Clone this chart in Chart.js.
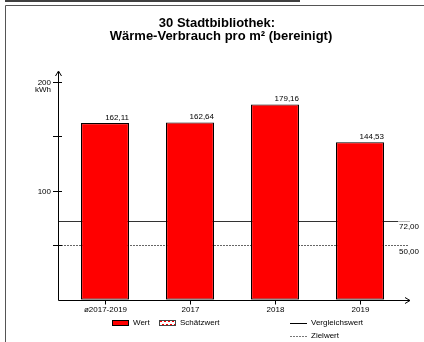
<!DOCTYPE html>
<html>
<head>
<meta charset="utf-8">
<script src="https://cdn.jsdelivr.net/npm/chart.js@4.4.1/dist/chart.umd.min.js"></script>
<style>
  html, body { margin: 0; padding: 0; background: #fff; }
  #wrap { width: 424px; height: 342px; position: relative; }
</style>
</head>
<body>
<div id="wrap"><canvas id="chart" width="424" height="342"></canvas></div>
<script>
// Chart data
const categories = ['ø2017-2019', '2017', '2018', '2019'];
const values = [162.11, 162.64, 179.16, 144.53];
const valueLabels = ['162,11', '162,64', '179,16', '144,53'];
const yTicks = [50, 100, 150, 200];
const yTickLabels = { 100: '100', 200: '200' };
const compareValue = 72;   // Vergleichswert
const targetValue = 50;    // Zielwert
const titleLines = ['30 Stadtbibliothek:', 'Wärme-Verbrauch pro m² (bereinigt)'];

const FONT = "'Liberation Sans', Arial, sans-serif";

// Reference lines, behind the bars
const refLines = {
    id: 'refLines',
    beforeDatasetsDraw(chart) {
        const ctx = chart.ctx;
        const y = chart.scales.y;
        const x0 = 58;
        ctx.save();
        // Vergleichswert
        let py = Math.round(y.getPixelForValue(compareValue)) + 0.5;
        ctx.strokeStyle = '#333';
        ctx.lineWidth = 1;
        ctx.beginPath();
        ctx.moveTo(x0, py);
        ctx.lineTo(398, py);
        ctx.stroke();
        ctx.strokeStyle = '#bbb';
        ctx.beginPath();
        ctx.moveTo(398, py);
        ctx.lineTo(410, py);
        ctx.stroke();
        // Zielwert
        py = Math.round(y.getPixelForValue(targetValue)) + 0.5;
        ctx.strokeStyle = '#666';
        ctx.setLineDash([2, 1]);
        ctx.beginPath();
        ctx.moveTo(x0, py);
        ctx.lineTo(409, py);
        ctx.stroke();
        ctx.setLineDash([]);
        ctx.restore();
    }
};

// Axes, labels, title, legend and frame
const decorations = {
    id: 'decorations',
    afterDatasetsDraw(chart) {
        const ctx = chart.ctx;
        const xs = chart.scales.x;
        const ys = chart.scales.y;
        const axisX = 58.5;
        const axisY = Math.round(ys.getPixelForValue(0)) + 0.5;
        ctx.save();

        // frame
        ctx.strokeStyle = '#000';
        ctx.lineWidth = 1.5;
        ctx.beginPath();
        ctx.moveTo(5, 1);
        ctx.lineTo(300, 1);
        ctx.stroke();
        ctx.strokeStyle = '#555';
        ctx.lineWidth = 1;
        ctx.beginPath();
        ctx.moveTo(424, 5.5);
        ctx.lineTo(5.5, 5.5);
        ctx.lineTo(5.5, 342);
        ctx.stroke();

        // title
        ctx.fillStyle = '#000';
        ctx.font = 'bold 13px ' + FONT;
        ctx.textAlign = 'center';
        ctx.textBaseline = 'middle';
        ctx.fillText(titleLines[0], 217, 23);
        ctx.fillText(titleLines[1], 221, 36);

        // axes
        ctx.strokeStyle = '#000';
        ctx.lineWidth = 1;
        ctx.beginPath();
        ctx.moveTo(axisX, axisY);
        ctx.lineTo(axisX, 72);
        ctx.moveTo(axisX - 3, 76);
        ctx.lineTo(axisX, 71);
        ctx.lineTo(axisX + 3, 76);
        ctx.moveTo(axisX, axisY);
        ctx.lineTo(410, axisY);
        ctx.moveTo(405, axisY - 3);
        ctx.lineTo(410, axisY);
        ctx.lineTo(405, axisY + 3);
        ctx.stroke();

        // y ticks
        ctx.font = '8px ' + FONT;
        ctx.textAlign = 'right';
        yTicks.forEach(v => {
            const py = Math.round(ys.getPixelForValue(v)) + 0.5;
            ctx.beginPath();
            ctx.moveTo(53, py);
            ctx.lineTo(62, py);
            ctx.stroke();
            if (yTickLabels[v]) ctx.fillText(yTickLabels[v], 51, py);
        });
        ctx.fillText('kWh', 51, ys.getPixelForValue(200) + 8);

        // x ticks and labels
        ctx.textAlign = 'center';
        categories.forEach((c, i) => {
            const px = Math.round(xs.getPixelForValue(i)) + 0.5;
            ctx.beginPath();
            ctx.moveTo(px, axisY);
            ctx.lineTo(px, axisY + 4);
            ctx.stroke();
            ctx.fillText(c, px, 310);
        });

        // value labels
        ctx.textAlign = 'right';
        ctx.textBaseline = 'alphabetic';
        const meta = chart.getDatasetMeta(0);
        meta.data.forEach((bar, i) => {
            ctx.fillText(valueLabels[i], bar.x + bar.width / 2, bar.y - 3);
        });

        // reference labels
        ctx.textAlign = 'left';
        ctx.textBaseline = 'middle';
        ctx.fillText('72,00', 399, ys.getPixelForValue(compareValue) + 6);
        ctx.fillText('50,00', 399, ys.getPixelForValue(targetValue) + 7);

        // legend
        ctx.fillStyle = '#ff0000';
        ctx.fillRect(112, 320, 17, 6);
        ctx.strokeStyle = '#000';
        ctx.strokeRect(112.5, 320.5, 16, 5);
        ctx.fillStyle = '#fff';
        ctx.fillRect(159, 320, 17, 6);
        ctx.fillStyle = '#ff0000';
        for (let k = 0; k < 4; k++) {
            ctx.fillRect(160 + k * 4, 321, 2, 1);
            ctx.fillRect(162 + k * 4, 324, 2, 1);
        }
        ctx.strokeStyle = '#444';
        ctx.strokeRect(159.5, 320.5, 16, 5);

        ctx.fillStyle = '#000';
        ctx.fillText('Wert', 133, 323);
        ctx.fillText('Schätzwert', 180, 323);

        ctx.strokeStyle = '#000';
        ctx.beginPath();
        ctx.moveTo(290, 323.5);
        ctx.lineTo(307, 323.5);
        ctx.stroke();
        ctx.strokeStyle = '#777';
        ctx.setLineDash([2, 1]);
        ctx.beginPath();
        ctx.moveTo(290, 336.5);
        ctx.lineTo(307, 336.5);
        ctx.stroke();
        ctx.setLineDash([]);
        ctx.fillText('Vergleichswert', 311, 323);
        ctx.fillText('Zielwert', 311, 336);

        ctx.restore();
    }
};

new Chart(document.getElementById('chart').getContext('2d'), {
    type: 'bar',
    data: {
        labels: categories,
        datasets: [{
            label: 'Wert',
            data: values,
            backgroundColor: '#ff0000',
            borderColor: '#000',
            borderWidth: 1.2,
            borderSkipped: false,
            barPercentage: 0.565,
            categoryPercentage: 1
        }]
    },
    options: {
        responsive: false,
        animation: false,
        events: [],
        layout: {
            padding: { left: 62.5, right: 21.5, top: 81.7, bottom: 42.3 }
        },
        plugins: {
            legend: { display: false },
            title: { display: false },
            tooltip: { enabled: false }
        },
        scales: {
            x: { display: false },
            y: { display: false, min: 0, max: 200 }
        }
    },
    plugins: [refLines, decorations]
});
</script>
</body>
</html>
